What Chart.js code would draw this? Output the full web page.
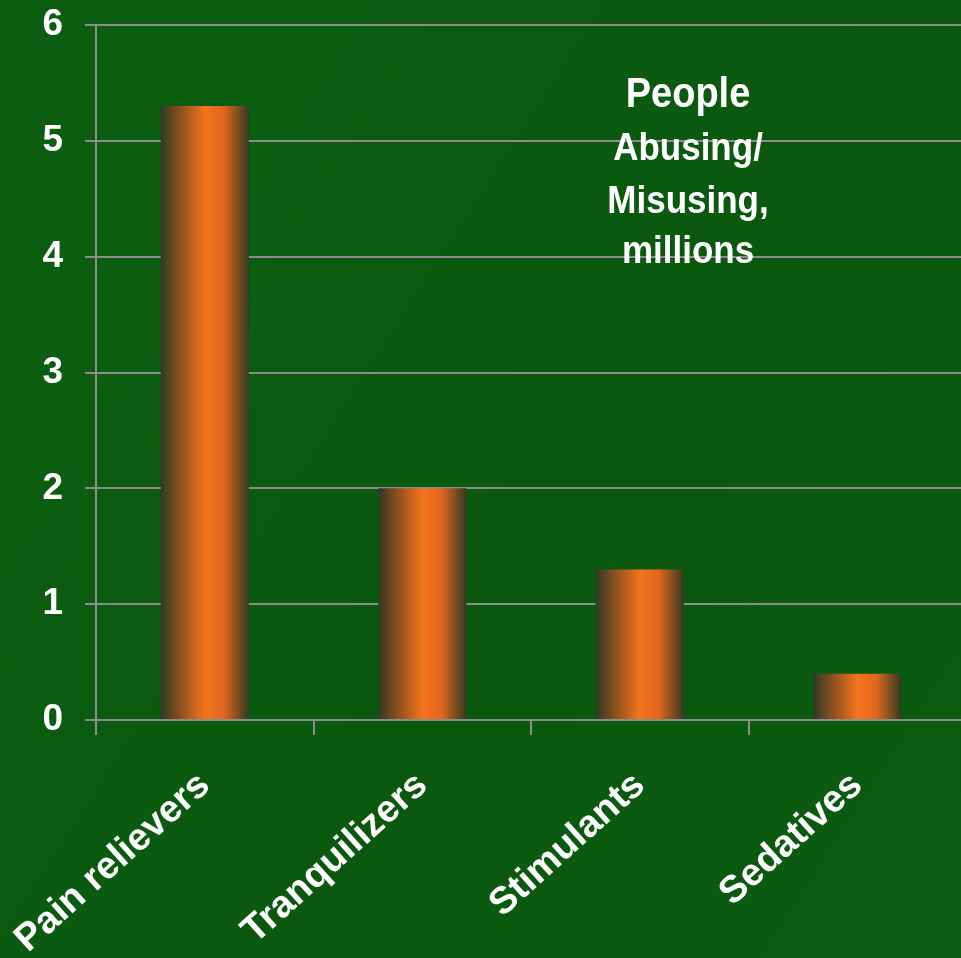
<!DOCTYPE html>
<html>
<head>
<meta charset="utf-8">
<script src="https://cdn.jsdelivr.net/npm/chart.js@4"></script>
<style>
  html, body { margin: 0; padding: 0; overflow: hidden; background: #0b5e10; }
  #wrap { width: 966px; height: 958px; }
</style>
</head>
<body>
<div id="wrap"><canvas id="canvas"></canvas></div>
<script>
// categories and values (millions of people)
const categories = ['Pain relievers', 'Tranquilizers', 'Stimulants', 'Sedatives'];
const peopleMillions = [5.3, 2.0, 1.3, 0.4];
const yTicks = [0, 1, 2, 3, 4, 5, 6];
const noteLines = ['People', 'Abusing/', 'Misusing,', 'millions'];

const BAR_PCT = 0.405;

// cylinder-like shading across each bar
function barGradient(context) {
    const chart = context.chart;
    const xScale = chart.scales.x;
    if (!chart.chartArea || !xScale || context.dataIndex === undefined) return '#f2721e';
    const cx = xScale.getPixelForValue(context.dataIndex);
    const w = (xScale.width / categories.length) * BAR_PCT;
    const g = chart.ctx.createLinearGradient(cx - w / 2, 0, cx + w / 2, 0);
    g.addColorStop(0, '#2c3b22');
    g.addColorStop(0.22, '#8c4f1f');
    g.addColorStop(0.5, '#f4731d');
    g.addColorStop(0.72, '#e0661f');
    g.addColorStop(1, '#313a21');
    return g;
}

const background = {
    id: 'background',
    beforeDraw(chart) {
        const { ctx, width, height } = chart;
        ctx.save();
        ctx.fillStyle = '#0b5e10';
        ctx.fillRect(0, 0, width, height);
        // faint darker streaks in the backdrop
        const g = ctx.createLinearGradient(0, height * 0.35, width, height);
        g.addColorStop(0, 'rgba(0,40,0,0)');
        g.addColorStop(0.5, 'rgba(0,40,0,0.10)');
        g.addColorStop(1, 'rgba(0,40,0,0.04)');
        ctx.fillStyle = g;
        ctx.fillRect(0, 0, width, height);
        ctx.restore();
    }
};

const note = {
    id: 'note',
    afterDatasetsDraw(chart) {
        const { ctx } = chart;
        ctx.save();
        ctx.fillStyle = '#ffffff';
        ctx.textAlign = 'center';
        ctx.textBaseline = 'alphabetic';
        const baselines = [107, 160, 213, 263];
        noteLines.forEach((line, i) => {
            ctx.save();
            ctx.translate(688, baselines[i]);
            ctx.scale(1, 1.1);
            ctx.font = (i === 0 ? 'bold 38px' : 'bold 35px') + ' "Liberation Sans", Arial, sans-serif';
            ctx.fillText(line, 0, 0);
            ctx.restore();
        });
        ctx.restore();
    }
};

function createVisualization() {
    const ctx = document.getElementById('canvas').getContext('2d');

    new Chart(ctx, {
        type: 'bar',
        data: {
            labels: categories,
            datasets: [{
                label: 'People Abusing/Misusing, millions',
                data: peopleMillions,
                backgroundColor: barGradient,
                borderWidth: 0,
                barPercentage: BAR_PCT,
                categoryPercentage: 1
            }]
        },
        options: {
            responsive: true,
            maintainAspectRatio: false,
            animation: false,
            layout: { padding: { top: 25, right: 0, left: 0, bottom: 0 } },
            scales: {
                x: {
                    grid: {
                        offset: true,
                        drawOnChartArea: false,
                        color: '#8c8c8c',
                        lineWidth: 2,
                        tickLength: 15
                    },
                    border: { color: '#8c8c8c', width: 2 },
                    ticks: {
                        color: '#ffffff',
                        font: { family: '"Liberation Sans", Arial, sans-serif', size: 38, weight: 'bold' },
                        maxRotation: 42,
                        minRotation: 42,
                        padding: 28,
                        autoSkip: false
                    },
                    afterFit(scale) {
                        scale.height = 238;
                        scale.paddingLeft = 0;
                        scale.paddingRight = 0;
                    }
                },
                y: {
                    min: 0,
                    max: 6,
                    afterBuildTicks(scale) { scale.ticks = yTicks.map(v => ({ value: v })); },
                    grid: {
                        color: '#8c8c8c',
                        lineWidth: 2,
                        tickLength: 11
                    },
                    border: { color: '#8c8c8c', width: 2 },
                    ticks: {
                        color: '#ffffff',
                        font: { family: '"Liberation Sans Narrow", "Liberation Sans", Arial, sans-serif', size: 37, weight: 'bold' },
                        padding: 22
                    },
                    afterFit(scale) {
                        scale.width = 96;
                        scale.paddingTop = 0;
                        scale.paddingBottom = 0;
                    }
                }
            },
            plugins: {
                legend: { display: false },
                tooltip: { enabled: false }
            }
        },
        plugins: [background, note]
    });
}

createVisualization();
</script>
</body>
</html>
